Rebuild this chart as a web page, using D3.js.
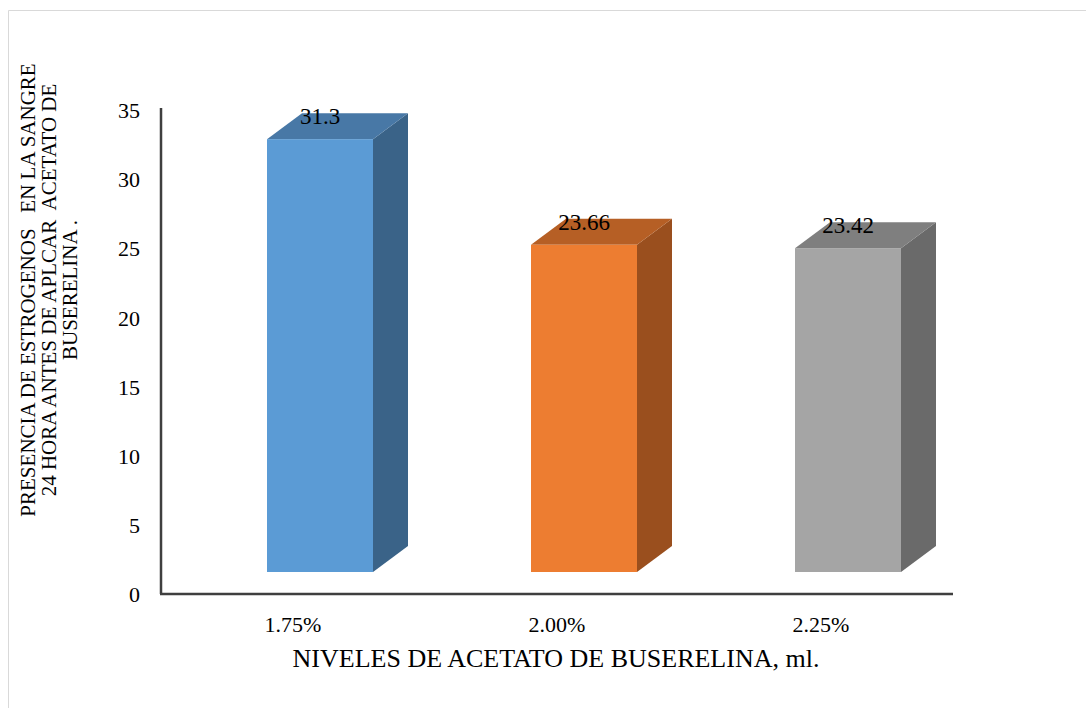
<!DOCTYPE html>
<html>
<head>
<meta charset="utf-8">
<script src="https://cdn.jsdelivr.net/npm/d3@7"></script>
<style>
  body { margin: 0; background: #fff; }
  svg text { font-family: "Liberation Serif", "DejaVu Serif", serif !important; fill: #000; }
</style>
</head>
<body>
<svg id="chart" width="1086" height="708"></svg>
<script>
// data
var categories = ["1.75%", "2.00%", "2.25%"];
var values = [31.3, 23.66, 23.42];
var valueLabels = ["31.3", "23.66", "23.42"];
var yTicks = [0, 5, 10, 15, 20, 25, 30, 35];
var yTitleLines = ["PRESENCIA DE ESTROGENOS   EN LA SANGRE", "24 HORA ANTES DE APLCAR  ACETATO DE", "BUSERELINA ."];
var xTitle = "NIVELES DE ACETATO DE BUSERELINA, ml.";

// front / top / side colours per bar
var faceColors = [
  {front: "#5b9bd5", top: "#4878a6", side: "#3a6388"},
  {front: "#ed7d31", top: "#b65f25", side: "#9a4f1e"},
  {front: "#a5a5a5", top: "#7f7f7f", side: "#6a6a6a"}
];

var svg = d3.select("#chart");

// outer frame (only top and left edge visible)
svg.append("path")
  .attr("d", "M8.5,1086 L8.5,10.5 L1090,10.5")
  .attr("fill", "none")
  .attr("stroke", "#d9d9d9")
  .attr("stroke-width", 1);

var x = d3.scaleBand()
  .domain(categories)
  .range([161, 953])
  .padding(0);

var y = d3.scaleLinear()
  .domain([0, 35])
  .range([594, 110]);

// 3d look
var depthX = 35, depthY = 26, lift = 22, barW = 106, shiftX = -26;

// bars
var bars = svg.append("g").selectAll("g")
  .data(values)
  .enter()
  .append("g");

bars.each(function(v, i) {
  var g = d3.select(this);
  var cx = x(categories[i]) + x.bandwidth() / 2;
  var x0 = cx + shiftX, x1 = x0 + barW;
  var top = y(v) - lift, bottom = y(0) - lift;
  var c = faceColors[i];

  g.append("path")
    .attr("d", "M" + x1 + "," + top + "L" + (x1 + depthX) + "," + (top - depthY) +
      "L" + (x1 + depthX) + "," + (bottom - depthY) + "L" + x1 + "," + bottom + "Z")
    .attr("fill", c.side);

  g.append("path")
    .attr("d", "M" + x0 + "," + top + "L" + (x0 + depthX) + "," + (top - depthY) +
      "L" + (x1 + depthX) + "," + (top - depthY) + "L" + x1 + "," + top + "Z")
    .attr("fill", c.top);

  g.append("rect")
    .attr("x", x0)
    .attr("y", top)
    .attr("width", barW)
    .attr("height", bottom - top)
    .attr("fill", c.front);

  g.append("text")
    .attr("x", x0 + barW / 2)
    .attr("y", top - 15)
    .attr("text-anchor", "middle")
    .attr("font-size", 23)
    .text(valueLabels[i]);
});

// axes
var yAxis = svg.append("g")
  .attr("transform", "translate(161,0)")
  .call(d3.axisLeft(y).tickValues(yTicks).tickSize(0).tickPadding(21).tickFormat(d3.format("d")));
yAxis.attr("font-family", null);
yAxis.select(".domain").attr("stroke", "#3f3f3f").attr("stroke-width", 2.5).attr("d", "M0,108V594");
yAxis.selectAll("text").attr("font-size", 22).attr("dy", "0.35em");

var xAxis = svg.append("g")
  .attr("transform", "translate(0,594)")
  .call(d3.axisBottom(x).tickSize(0).tickPadding(22));
xAxis.attr("font-family", null);
xAxis.select(".domain").attr("stroke", "#3f3f3f").attr("stroke-width", 2.5).attr("d", "M160,0H953");
xAxis.selectAll("text").attr("font-size", 22);

// titles
svg.append("text")
  .attr("x", 556)
  .attr("y", 667)
  .attr("text-anchor", "middle")
  .attr("font-size", 26)
  .text(xTitle);

svg.append("g")
  .attr("transform", "translate(35,290) rotate(-90)")
  .selectAll("text")
  .data(yTitleLines)
  .enter()
  .append("text")
  .attr("x", 0)
  .attr("y", function(d, i) { return i * 21; })
  .attr("text-anchor", "middle")
  .attr("font-size", 21)
  .style("white-space", "pre")
  .text(function(d) { return d; });
</script>
</body>
</html>
